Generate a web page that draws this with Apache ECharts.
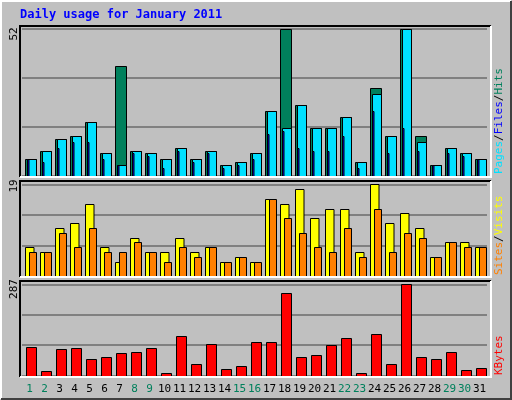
<!DOCTYPE html>
<html><head><meta charset="utf-8">
<script src="https://cdn.jsdelivr.net/npm/echarts@6/dist/echarts.min.js"></script>
<style>html,body{margin:0;padding:0;background:#c0c0c0}#c{width:512px;height:400px}</style>
</head><body><div id="c"></div>
<script>
const days = ['1','2','3','4','5','6','7','8','9','10','11','12','13','14','15','16','17','18','19','20','21','22','23','24','25','26','27','28','29','30','31'];
const weekend = ['1','2','8','9','15','16','22','23','29','30'];
const hits  = [6,9,13,14,19,8,39,9,8,6,10,6,9,4,5,8,23,52,25,17,17,21,5,31,14,52,14,4,10,8,6];
const files = [6,9,13,14,19,8,4,9,8,6,10,6,9,4,5,8,23,17,25,17,17,21,5,29,14,52,12,4,10,8,6];
const pages = [6,5,10,12,12,6,4,8,7,3,9,5,8,3,4,6,15,16,10,9,9,14,3,23,8,17,9,4,8,7,6];
const visits = [6,5,10,11,15,6,3,8,5,5,8,5,6,3,4,3,16,15,18,12,14,14,5,19,11,13,10,4,7,7,6];
const sites  = [5,5,9,6,10,5,5,7,5,3,6,4,6,3,4,3,16,12,9,6,5,10,4,14,5,9,8,4,7,6,6];
const kbytes = [89,14,83,86,54,58,70,73,86,10,124,36,98,20,32,105,105,259,58,64,95,117,10,130,36,287,58,54,73,17,23];
const maxTop = 52, maxMid = 19, maxBot = 287;

const chart = echarts.init(document.getElementById('c'), null, {renderer:'canvas'});
const mono = 'DejaVu Sans Mono';
function bar(off0, off1, color){
  return function(params, api){
    const p = api.coord([api.value(0), api.value(1)]);
    const b = api.coord([api.value(0), 0]);
    return {type:'rect', shape:{x:Math.round(p[0]+off0)+0.5, y:Math.round(p[1])+0.5, width:off1-off0, height:Math.round(b[1])-Math.round(p[1])},
      style:{fill:color, stroke:'#000', lineWidth:1}};
  };
}
const toData = arr => arr.map((v,i)=>[i,v]);
function ser(grid, arr, o0, o1, color, z){
  return {type:'custom', xAxisIndex:grid, yAxisIndex:grid, data:toData(arr), renderItem:bar(o0,o1,color), z:z, silent:true};
}
function panel(y0, y1){
  return [
    {type:'rect', shape:{x:20,y:y0,width:471,height:y1-y0}, style:{fill:'#c0c0c0'}, z:-10},
    {type:'polyline', shape:{points:[[20,y1],[20,y0],[491,y0]]}, style:{stroke:'#000',lineWidth:2,fill:null}, z:10},
    {type:'polyline', shape:{points:[[491,y0],[491,y1],[20,y1]]}, style:{stroke:'#fff',lineWidth:2,fill:null}, z:10}
  ];
}
const F = '11px '+mono;
function vtext(x, yBottom, rich, parts){
  return {type:'text', x:x, y:yBottom, rotation:Math.PI/2, z:20,
    style:{text:parts, rich:rich, font:F, align:'left', verticalAlign:'middle'}};
}
const rich = {
  p:{fill:'#00e0ff',font:F}, f:{fill:'#0000ff',font:F}, h:{fill:'#00805c',font:F},
  k:{fill:'#000',font:F}, s:{fill:'#ff8000',font:F}, v:{fill:'#ffff00',font:F},
  r:{fill:'#ff0000',font:F}
};
function rtext(x, yc, s){ return {type:'text', x:x, y:yc, rotation:Math.PI/2, z:20, style:{text:s, font:F, fill:'#000', align:'center', verticalAlign:'middle'}}; }
const grids = [
  {left:22, width:465, top:29, height:147},
  {left:22, width:465, top:184.3, height:92},
  {left:22, width:465, top:284.3, height:91.4}
];
const maxes = [maxTop, maxMid, maxBot];
chart.setOption({
  animation:false,
  backgroundColor:'#c0c0c0',
  grid:grids,
  xAxis:[0,1,2].map(i=>({type:'category', gridIndex:i, data:days, axisLine:{show:false}, axisTick:{show:false},
    axisLabel: i<2 ? {show:false} : {show:true, interval:0, margin:8, fontFamily:mono, fontSize:11,
      formatter:v=> weekend.includes(v) ? '{w|'+v+'}' : '{n|'+v+'}',
      rich:{w:{color:'#00805c',fontFamily:mono,fontSize:11}, n:{color:'#000',fontFamily:mono,fontSize:11}}}})),
  yAxis:[0,1,2].map(i=>({type:'value', gridIndex:i, min:0, max:maxes[i], interval:maxes[i]/3,
    axisLabel:{show:false}, axisLine:{show:false}, axisTick:{show:false},
    splitLine:{show:true, lineStyle:{color:'#808080', width:2}}})),
  series:[
    ser(0, hits, -4.5, 6.5, '#00805c', 1),
    ser(0, files, -2.5, 6.5, '#00e0ff', 2),
    ser(0, pages, -2.5, -1, '#0000ff', 3),
    ser(1, visits, -4.5, 4, '#ffff00', 1),
    ser(1, sites, -0.5, 6.5, '#ff8000', 2),
    ser(2, kbytes, -3.5, 6.5, '#ff0000', 1)
  ],
  graphic:[
    {type:'polyline', shape:{points:[[1,399],[1,1],[511,1]]}, style:{stroke:'#fff',lineWidth:2,fill:null}, z:-5},
    {type:'polyline', shape:{points:[[511,1],[511,399],[1,399]]}, style:{stroke:'#404040',lineWidth:2,fill:null}, z:-5},
    ...panel(26,177), ...panel(181,277), ...panel(281,377),
    {type:'text', x:20, y:15, z:20, style:{text:'Daily usage for January 2011', font:'bold 12px '+mono, fill:'#0000ff', verticalAlign:'middle'}},
    rtext(14, 34, '52'), rtext(14, 186, '19'), rtext(14, 289, '287'),
    vtext(499, 174, rich, '{p|Pages}{k|/}{f|Files}{k|/}{h|Hits}'),
    vtext(499, 275, rich, '{s|Sites}{k|/}{v|Visits}'),
    vtext(499, 375, rich, '{r|KBytes}')
  ]
});
</script></body></html>
